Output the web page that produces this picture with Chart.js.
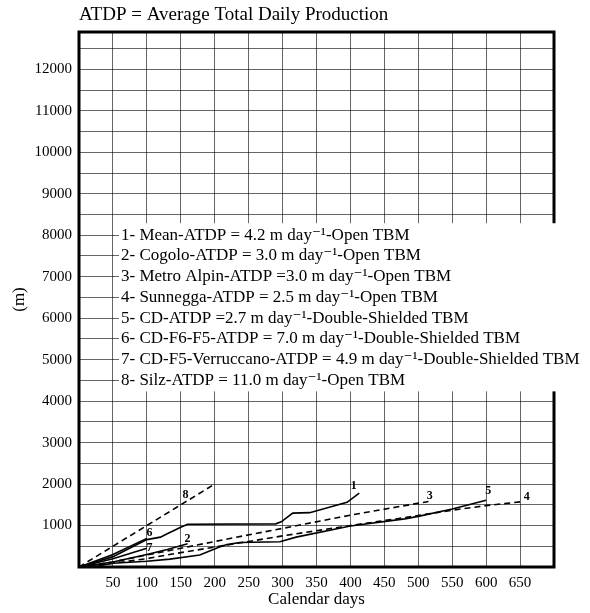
<!DOCTYPE html>
<html>
<head>
<meta charset="utf-8">
<script src="https://cdn.jsdelivr.net/npm/chart.js"></script>
<style>
  html, body { margin: 0; padding: 0; background: #fff; }
  #wrap { width: 590px; height: 613px; }
</style>
</head>
<body>
<div id="wrap"><canvas id="c" width="590" height="613"></canvas></div>
<script>
// curves: [calendar day, metres]
const mean     = [[0,0],[50,250],[100,660],[120,720],[130,800],[150,960],[160,1030],[290,1040],[298,1090],[315,1300],[340,1310],[395,1560],[413,1780]];
const cogolo   = [[0,0],[50,120],[100,300],[130,420],[160,560]];
const metro    = [[0,0],[50,120],[100,290],[159,480],[229,710],[300,930],[384,1200],[400,1250],[501,1540],[515,1580]];
const sunnegga = [[0,0],[50,90],[100,200],[129,290],[200,480],[229,560],[300,750],[384,960],[400,1000],[471,1170],[550,1370],[600,1480],[650,1570]];
const cd       = [[0,0],[30,30],[50,90],[100,140],[134,190],[178,290],[207,480],[218,540],[237,590],[296,610],[320,720],[400,990],[480,1160],[500,1220],[550,1400],[600,1610]];
const cdF6F5   = [[0,0],[50,300],[100,690]];
const cdF5Verr = [[0,0],[50,200],[100,450]];
const silz     = [[0,0],[200,2000]];

const seriesData = [mean, cogolo, metro, sunnegga, cd, cdF6F5, cdF5Verr, silz];
const seriesDashed = [false, false, true, true, false, false, false, true];

const legendLines = [
  '1- Mean-ATDP = 4.2 m day\u207B\u00B9-Open TBM',
  '2- Cogolo-ATDP = 3.0 m day\u207B\u00B9-Open TBM',
  '3- Metro Alpin-ATDP =3.0 m day\u207B\u00B9-Open TBM',
  '4- Sunnegga-ATDP = 2.5 m day\u207B\u00B9-Open TBM',
  '5- CD-ATDP =2.7 m day\u207B\u00B9-Double-Shielded TBM',
  '6- CD-F6-F5-ATDP = 7.0 m day\u207B\u00B9-Double-Shielded TBM',
  '7- CD-F5-Verruccano-ATDP = 4.9 m day\u207B\u00B9-Double-Shielded TBM',
  '8- Silz-ATDP = 11.0 m day\u207B\u00B9-Open TBM'
];
// legend rows sit on the grid lines 8000, 7500 ... 4500
const legendRows = [8000, 7500, 7000, 6500, 6000, 5500, 5000, 4500];

// curve number tags: [text, day, metres]
const curveTags = [['8',157,1730],['2',160,680],['1',405,1960],['3',517,1720],['5',603,1830],['4',660,1690],['6',104,820],['7',104,470]];

// grid every 500 m, labels every 1000 m
const yGrid = [0,500,1000,1500,2000,2500,3000,3500,4000,4500,5000,5500,6000,6500,7000,7500,8000,8500,9000,9500,10000,10500,11000,11500,12000,12500];
const xMax = 700, yMax = 12900;
const serif = "'Liberation Serif', 'DejaVu Serif', serif";

const datasets = seriesData.map((pts, i) => ({
  data: pts.map(p => ({x: p[0], y: p[1]})),
  borderColor: '#000',
  borderWidth: 1.6,
  borderDash: seriesDashed[i] ? [6, 4] : [],
  pointRadius: 0,
  tension: 0,
  fill: false
}));

const extras = {
  id: 'extras',
  afterDraw(chart) {
    const {ctx, chartArea: a, scales: {x, y}} = chart;
    ctx.save();
    // frame
    ctx.strokeStyle = '#000';
    ctx.lineWidth = 3;
    ctx.strokeRect(a.left, a.top, a.right - a.left, a.bottom - a.top);

    // legend block
    const top = y.getPixelForValue(legendRows[0]) - 12;
    const bot = y.getPixelForValue(legendRows[legendRows.length - 1]) + 11;
    ctx.fillStyle = '#fff';
    ctx.fillRect(a.left + 40, top, chart.width - a.left - 40, bot - top);
    ctx.fillStyle = '#000';
    ctx.font = '17px ' + serif;
    ctx.textBaseline = 'middle';
    ctx.textAlign = 'left';
    legendLines.forEach((t, i) => {
      ctx.fillText(t, a.left + 42, y.getPixelForValue(legendRows[i]));
    });

    // curve tags
    ctx.font = 'bold 12px ' + serif;
    ctx.textAlign = 'center';
    curveTags.forEach(([t, d, m]) => {
      ctx.fillText(t, x.getPixelForValue(d), y.getPixelForValue(m));
    });

    // heading
    ctx.font = '19px ' + serif;
    ctx.textAlign = 'left';
    ctx.fillText('ATDP = Average Total Daily Production', a.left, 15);
    ctx.restore();
  }
};

new Chart(document.getElementById('c'), {
  type: 'line',
  data: { datasets },
  options: {
    responsive: false,
    animation: false,
    layout: { padding: { top: 32, right: 36, left: 0, bottom: 0 } },
    plugins: { legend: { display: false }, tooltip: { enabled: false } },
    scales: {
      x: {
        type: 'linear',
        min: 0, max: xMax,
        afterFit: s => { s.height = 46; },
        grid: { color: 'rgba(0,0,0,0.6)', lineWidth: 1, drawTicks: false },
        border: { display: false },
        ticks: {
          stepSize: 50, padding: 7, color: '#000', maxRotation: 0, autoSkip: false,
          font: { family: serif, size: 15 },
          callback: v => (v > 0 && v < xMax) ? v : ''
        },
        title: { display: true, text: 'Calendar days', color: '#000', padding: { top: 0, bottom: 3 }, font: { family: serif, size: 17 } }
      },
      y: {
        type: 'linear',
        min: 0, max: yMax,
        afterFit: s => { s.width = 79; },
        afterBuildTicks: s => { s.ticks = yGrid.map(v => ({ value: v })); },
        grid: { color: 'rgba(0,0,0,0.6)', lineWidth: 1, drawTicks: false },
        border: { display: false },
        ticks: {
          padding: 7, color: '#000', autoSkip: false,
          font: { family: serif, size: 15 },
          callback: v => (v > 0 && v % 1000 === 0) ? String(v) : ''
        },
        title: { display: true, text: '(m)', color: '#000', padding: { top: 9, bottom: 0 }, font: { family: serif, size: 17 } }
      }
    }
  },
  plugins: [extras]
});
</script>
</body>
</html>
